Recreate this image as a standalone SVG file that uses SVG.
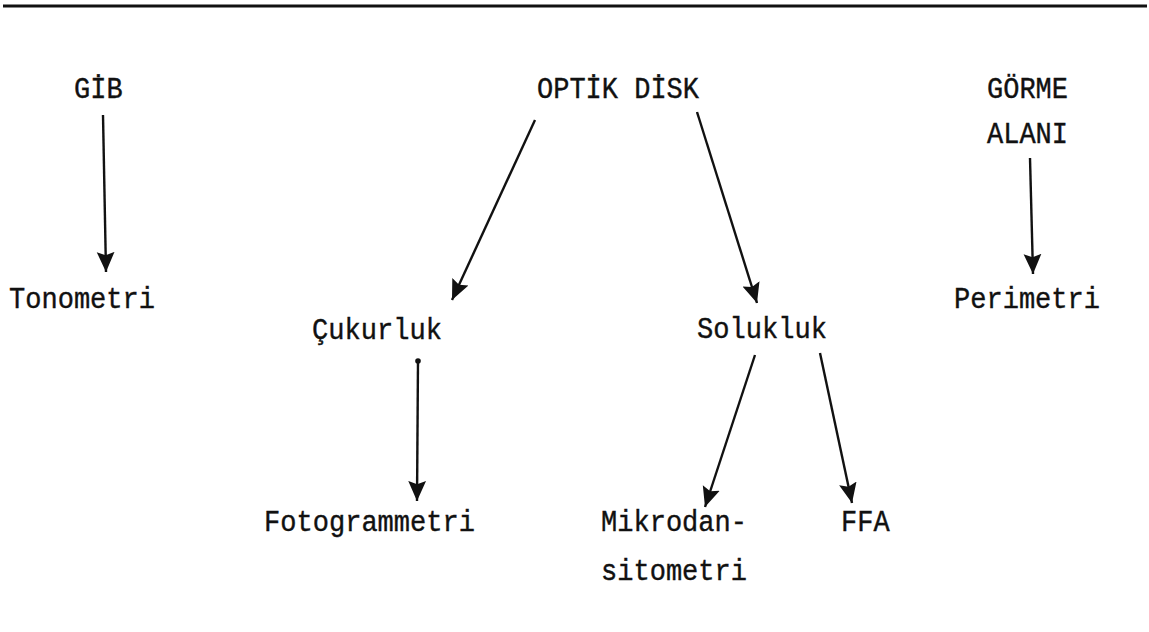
<svg xmlns="http://www.w3.org/2000/svg" width="1149" height="632" viewBox="0 0 1149 632">
  <style>
    .lbl { font-family: "Liberation Mono", "DejaVu Sans Mono", monospace; font-size: 30px; fill: #111; stroke: #111; stroke-width: 0.4; }
    .edge { stroke: #111; stroke-width: 2.4; fill: none; marker-end: url(#head); }
    .rule { stroke-width: 3; }
  </style>
  <defs>
    <marker id="head" markerUnits="userSpaceOnUse" markerWidth="20" markerHeight="20" viewBox="0 0 18 18" refX="18" refY="9" orient="auto">
      <path d="M0,1 L18,9 L0,17 L3,9 Z" fill="#111"/>
    </marker>
    <linearGradient id="fade" x1="0" y1="0" x2="1" y2="0">
      <stop offset="0" stop-color="#9a9a9a"/>
      <stop offset="0.5" stop-color="#555"/>
      <stop offset="1" stop-color="#111"/>
    </linearGradient>
  </defs>

  <rect width="1149" height="632" fill="#fff"/>

  <!-- page rules -->
  <line class="rule" x1="3" y1="6" x2="1147" y2="6" stroke="#111"/>
  <line class="rule" x1="3" y1="630" x2="1147" y2="630" stroke="url(#fade)"/>

  <g id="gib"><text class="lbl" x="74" y="98" textLength="48.6" lengthAdjust="spacingAndGlyphs">GİB</text></g>
  <g id="optik-disk"><text class="lbl" x="537" y="98" textLength="162" lengthAdjust="spacingAndGlyphs">OPTİK DİSK</text></g>
  <g id="gorme-alani">
    <text class="lbl" x="987" y="98" textLength="81" lengthAdjust="spacingAndGlyphs">GÖRME</text>
    <text class="lbl" x="987" y="143" textLength="81" lengthAdjust="spacingAndGlyphs">ALANI</text>
  </g>
  <g id="tonometri"><text class="lbl" x="9" y="308" textLength="146" lengthAdjust="spacingAndGlyphs">Tonometri</text></g>
  <g id="perimetri"><text class="lbl" x="954" y="308" textLength="146" lengthAdjust="spacingAndGlyphs">Perimetri</text></g>
  <g id="cukurluk"><text class="lbl" x="312" y="339" textLength="130" lengthAdjust="spacingAndGlyphs">Çukurluk</text></g>
  <g id="solukluk"><text class="lbl" x="697" y="338" textLength="130" lengthAdjust="spacingAndGlyphs">Solukluk</text></g>
  <g id="fotogrammetri"><text class="lbl" x="264" y="531" textLength="211" lengthAdjust="spacingAndGlyphs">Fotogrammetri</text></g>
  <g id="mikrodansitometri">
    <text class="lbl" x="601" y="531" textLength="146" lengthAdjust="spacingAndGlyphs">Mikrodan-</text>
    <text class="lbl" x="601" y="580" textLength="146" lengthAdjust="spacingAndGlyphs">sitometri</text>
  </g>
  <g id="ffa"><text class="lbl" x="841" y="531" textLength="48.6" lengthAdjust="spacingAndGlyphs">FFA</text></g>

  <g id="connectors">
    <line class="edge" x1="103" y1="115" x2="106" y2="272"/>
    <line class="edge" x1="535" y1="120" x2="452" y2="300"/>
    <line class="edge" x1="697" y1="112" x2="757" y2="303"/>
    <line class="edge" x1="1030" y1="158" x2="1033" y2="274"/>
    <circle cx="418" cy="361" r="2.8" fill="#111"/>
    <line class="edge" x1="418" y1="360" x2="417" y2="501"/>
    <line class="edge" x1="755" y1="355" x2="705" y2="507"/>
    <line class="edge" x1="820" y1="353" x2="852" y2="503"/>
  </g>
</svg>
